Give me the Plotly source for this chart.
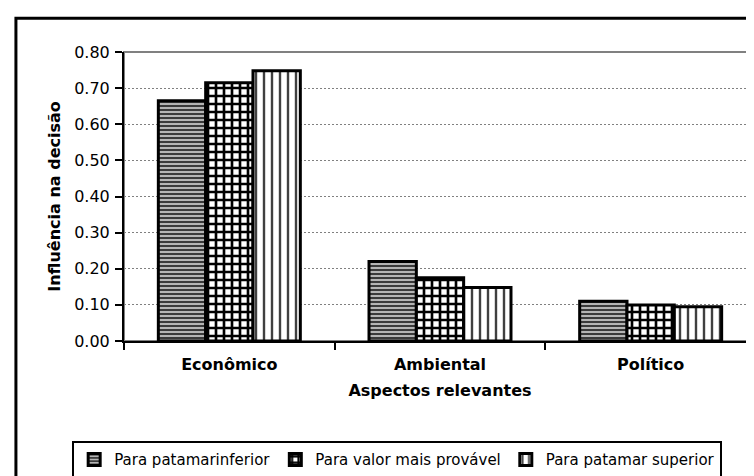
import plotly.graph_objects as go

categorias = ["Econômico", "Ambiental", "Político"]
patamar_inferior = [0.665, 0.22, 0.11]
valor_mais_provavel = [0.715, 0.175, 0.10]
patamar_superior = [0.748, 0.148, 0.095]
nomes = ["Para patamarinferior", "Para valor mais provável", "Para patamar superior"]
y_ticks = [0.0, 0.1, 0.2, 0.3, 0.4, 0.5, 0.6, 0.7, 0.8]

FONT = "DejaVu Sans, Liberation Sans, Arial, sans-serif"

# one pattern per series, like the old excel hatch fills
padroes = [
    dict(shape="-", fgcolor="#3a3a3a", bgcolor="#b4b4b4", size=4, solidity=0.5, fillmode="replace"),
    dict(shape="+", fgcolor="#000000", bgcolor="#ffffff", size=8, solidity=0.55, fillmode="replace"),
    dict(shape="|", fgcolor="#404040", bgcolor="#ffffff", size=8, solidity=0.3, fillmode="replace"),
]

fig = go.Figure()
for nome, valores, padrao in zip(nomes, [patamar_inferior, valor_mais_provavel, patamar_superior], padroes):
    fig.add_trace(go.Bar(
        x=categorias, y=valores, name=nome,
        marker=dict(color=padrao["bgcolor"], pattern=padrao, line=dict(color="black", width=3)),
    ))

fig.update_layout(
    width=754, height=476,
    margin=dict(l=116, r=6, t=44, b=141),
    paper_bgcolor="white", plot_bgcolor="white",
    font=dict(family=FONT, size=16, color="black"),
    barmode="group", bargap=0.326, bargroupgap=0,
    showlegend=True,
    legend=dict(
        orientation="h", x=-0.082, y=-0.347, xanchor="left", yanchor="top",
        bordercolor="black", borderwidth=2, font=dict(size=15),
        itemwidth=30, tracegroupgap=0,
    ),
    shapes=[
        # outer chart frame (cropped at right and bottom)
        dict(type="rect", xref="paper", yref="paper", x0=-0.171, x1=1.3, y0=-1.0, y1=1.117,
             line=dict(color="black", width=3), layer="below"),
        # plot area frame
        dict(type="rect", xref="paper", yref="paper", x0=0, x1=1, y0=0, y1=1,
             line=dict(color="#808080", width=2), layer="below"),
    ],
)

fig.update_xaxes(
    showline=True, linecolor="black", linewidth=2,
    ticks="outside", tickson="boundaries", ticklen=7, tickcolor="black", tickwidth=2,
    tickfont=dict(size=16, family=FONT, weight="bold"), ticklabelstandoff=8,
    title=dict(text="<b>Aspectos relevantes</b>", font=dict(size=16), standoff=12),
)
fig.update_yaxes(
    range=[0, 0.8], tickvals=y_ticks, tickformat=".2f",
    showline=True, linecolor="black", linewidth=2,
    ticks="outside", ticklen=7, tickcolor="black", tickwidth=2,
    tickfont=dict(size=16), ticklabelstandoff=2,
    showgrid=True, gridcolor="#808080", griddash="2px,2px", gridwidth=1,
    zeroline=False,
    title=dict(text="<b>Influência na decisão</b>", font=dict(size=16), standoff=10),
)

fig.write_html("out.html")
